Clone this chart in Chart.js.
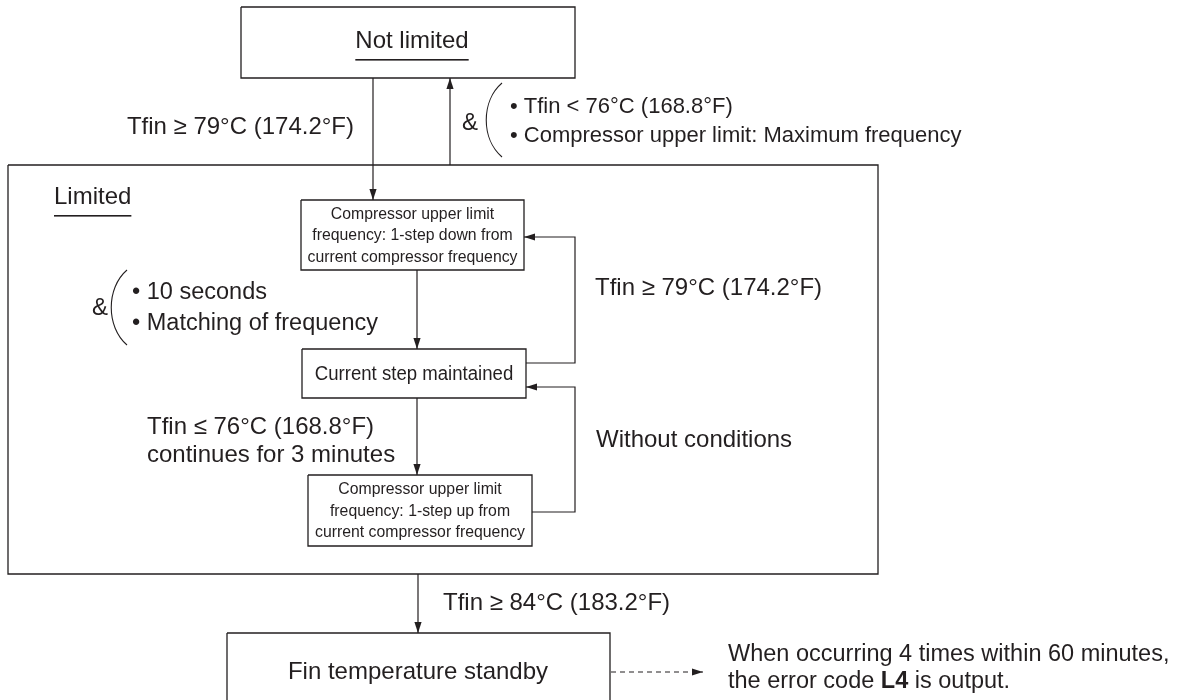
<!DOCTYPE html>
<html>
<head>
<meta charset="utf-8">
<script src="https://cdn.jsdelivr.net/npm/chart.js@4"></script>
<style>
  body { margin: 0; background: #fff; }
  #wrap { width: 1190px; height: 700px; }
</style>
</head>
<body>
<div id="wrap"><canvas id="myChart"></canvas></div>
<script>
let ctx = document.getElementById('myChart').getContext('2d');

// flow states (boxes), in picture units
let boxNames = ['Not limited', 'Limited', 'Step down', 'Step kept', 'Step up', 'Standby'];
let boxLeft   = [241,   8, 301, 302, 308, 227];
let boxTop    = [  7, 165, 200, 349, 475, 633];
let boxRight  = [575, 878, 524, 526, 532, 610];
let boxBottom = [ 78, 574, 270, 398, 546, 711];

// transitions, each a list of [x, y] points; arrow on the last one
let edges = [
    [[373, 78], [373, 200]],
    [[450, 165], [450, 78]],
    [[417, 270], [417, 349]],
    [[417, 398], [417, 475]],
    [[526, 363], [575, 363], [575, 237], [524, 237]],
    [[532, 512], [575, 512], [575, 387], [526, 387]],
    [[418, 574], [418, 633]]
];
let dashedEdges = [
    [[611, 672], [703, 672]]
];

// text items
let labelText  = ['Not limited', 'Tfin \u2265 79\u00b0C (174.2\u00b0F)', '&', '\u2022 Tfin < 76\u00b0C (168.8\u00b0F)',
                  '\u2022 Compressor upper limit: Maximum frequency', 'Limited',
                  'Compressor upper limit', 'frequency: 1-step down from', 'current compressor frequency',
                  'Current step maintained',
                  'Compressor upper limit', 'frequency: 1-step up from', 'current compressor frequency',
                  'Tfin \u2265 79\u00b0C (174.2\u00b0F)', '&', '\u2022 10 seconds', '\u2022 Matching of frequency',
                  'Tfin \u2264 76\u00b0C (168.8\u00b0F)', 'continues for 3 minutes', 'Without conditions',
                  'Tfin \u2265 84\u00b0C (183.2\u00b0F)', 'Fin temperature standby',
                  'When occurring 4 times within 60 minutes,'];
let labelX     = [412, 354, 470, 510, 510,  54, 412.5, 412.5, 412.5, 414, 420, 420, 420, 595, 100, 132, 132, 147, 147, 596, 443, 418, 728];
let labelY     = [ 41, 127, 123, 107, 136, 197, 214, 235, 257, 374, 489, 511, 532, 288, 308, 293, 324, 427, 455, 440, 603, 672, 655];
let labelSize  = [ 24,  24,  24,  22,  22,  24,  17,  17,  17,  20,  17,  17,  17,  24,  24, 23.5, 23.5, 24, 24,  24,  24,  24, 23.5];
let labelWide  = [  1,   1,   1,   1,   1,   1, .93, .93, .93, .93, .93, .93, .93,   1,   1,   1,   1,   1,   1,   1,   1,   1,   1];
let labelAlign = ['center', 'right', 'center', 'left', 'left', 'left', 'center', 'center', 'center', 'center',
                  'center', 'center', 'center', 'left', 'center', 'left', 'left', 'left', 'left', 'left', 'left', 'center', 'left'];
let underlined = ['Not limited', 'Limited'];

// last line with bold error code
let errorLine = ['the error code ', 'L4', ' is output.'];
let errorLineX = 728, errorLineY = 682;

// brackets "(" : x of tips, x of bulge, top, bottom
let bracketTipX = [502, 127];
let bracketMidX = [481, 106];
let bracketTop  = [83, 270];
let bracketBot  = [157, 345];

const ink = '#231f20';
const fontFamily = '"Liberation Sans", Arial, Helvetica, sans-serif';

let datasets = [];
for (let i = 0; i < boxNames.length; i++) {
    datasets.push({
        label: boxNames[i],
        data: [
            {x: boxLeft[i], y: boxTop[i]}, {x: boxRight[i], y: boxTop[i]},
            {x: boxRight[i], y: boxBottom[i]}, {x: boxLeft[i], y: boxBottom[i]},
            {x: boxLeft[i], y: boxTop[i]}
        ],
        showLine: true, borderColor: ink, borderWidth: 1.3, pointRadius: 0, fill: false
    });
}
edges.forEach(function(e) {
    datasets.push({
        label: 'edge', data: e.map(p => ({x: p[0], y: p[1]})),
        showLine: true, borderColor: ink, borderWidth: 1.2, pointRadius: 0, fill: false
    });
});
dashedEdges.forEach(function(e) {
    datasets.push({
        label: 'dashed', data: e.map(p => ({x: p[0], y: p[1]})),
        showLine: true, borderColor: ink, borderWidth: 1.2, borderDash: [5, 4], pointRadius: 0, fill: false
    });
});

let drawExtras = {
    id: 'drawExtras',
    afterDatasetsDraw(chart) {
        let c = chart.ctx;
        let sx = chart.scales.x, sy = chart.scales.y;
        let X = v => sx.getPixelForValue(v), Y = v => sy.getPixelForValue(v);
        c.save();
        c.fillStyle = ink;
        c.strokeStyle = ink;

        // arrow heads
        edges.concat(dashedEdges).forEach(function(e) {
            let a = e[e.length - 2], b = e[e.length - 1];
            let x1 = X(a[0]), y1 = Y(a[1]), x2 = X(b[0]), y2 = Y(b[1]);
            let ang = Math.atan2(y2 - y1, x2 - x1);
            c.save();
            c.translate(x2, y2);
            c.rotate(ang);
            c.beginPath();
            c.moveTo(0, 0);
            c.lineTo(-11, -3.6);
            c.lineTo(-11, 3.6);
            c.closePath();
            c.fill();
            c.restore();
        });

        // brackets
        c.lineWidth = 1.1;
        for (let i = 0; i < bracketTipX.length; i++) {
            c.beginPath();
            c.moveTo(X(bracketTipX[i]), Y(bracketTop[i]));
            c.bezierCurveTo(X(bracketMidX[i]), Y(bracketTop[i] + 18), X(bracketMidX[i]), Y(bracketBot[i] - 18),
                            X(bracketTipX[i]), Y(bracketBot[i]));
            c.stroke();
        }

        // texts
        c.textBaseline = 'middle';
        for (let i = 0; i < labelText.length; i++) {
            c.font = labelSize[i] + 'px ' + fontFamily;
            c.textAlign = labelAlign[i];
            c.save();
            c.translate(X(labelX[i]), Y(labelY[i]));
            c.scale(labelWide[i], 1);
            c.fillText(labelText[i], 0, 0);
            if (underlined.includes(labelText[i])) {
                let w = c.measureText(labelText[i]).width;
                let left = labelAlign[i] === 'center' ? -w / 2 : 0;
                c.fillRect(left, 18, w, 1.6);
            }
            c.restore();
        }

        // error code line, L4 bold
        c.textAlign = 'left';
        let px = X(errorLineX);
        errorLine.forEach(function(part) {
            c.font = (part === 'L4' ? 'bold ' : '') + '23.5px ' + fontFamily;
            c.fillText(part, px, Y(errorLineY));
            px += c.measureText(part).width;
        });
        c.restore();
    }
};

Chart.defaults.font.family = fontFamily;

let chart = new Chart(ctx, {
    type: 'scatter',
    data: { datasets: datasets },
    options: {
        responsive: true,
        maintainAspectRatio: false,
        animation: false,
        layout: { padding: 0 },
        elements: { line: { tension: 0 } },
        scales: {
            x: { type: 'linear', min: 0, max: 1190, display: false },
            y: { type: 'linear', min: 0, max: 700, reverse: true, display: false }
        },
        plugins: { legend: { display: false }, tooltip: { enabled: false } }
    },
    plugins: [drawExtras]
});
</script>
</body>
</html>
